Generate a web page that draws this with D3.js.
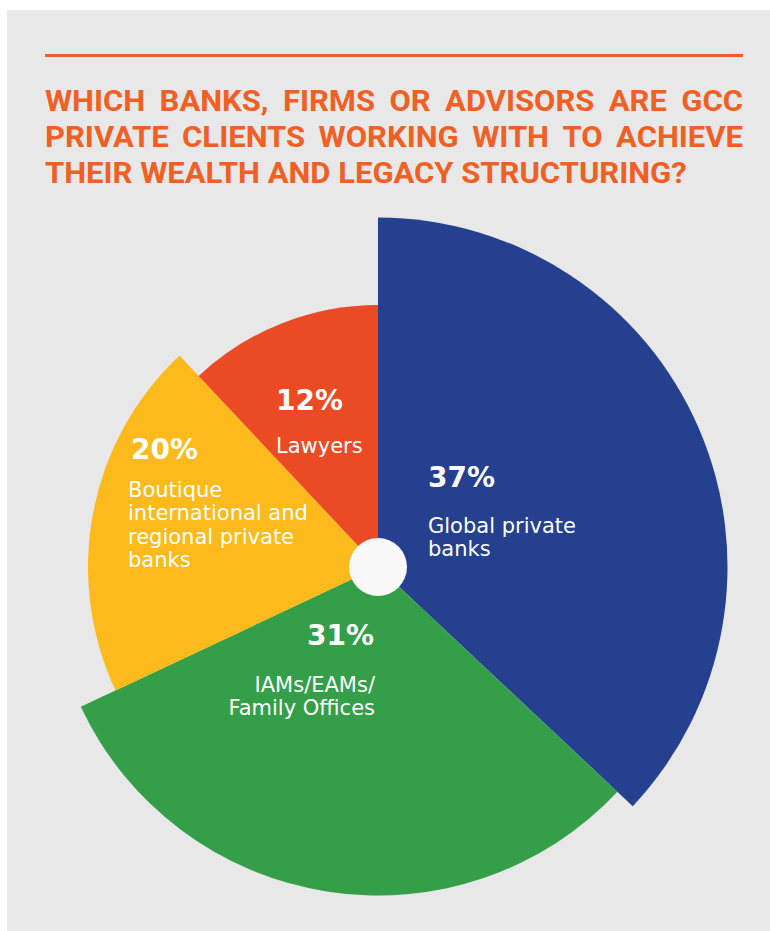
<!DOCTYPE html>
<html>
<head>
<meta charset="utf-8">
<script src="https://cdn.jsdelivr.net/npm/d3@7"></script>
<style>
  html, body { margin: 0; padding: 0; background: #ffffff; }
  svg { display: block; }
</style>
</head>
<body>
<svg id="chart" width="770" height="931"></svg>
<script>
// ---- data ----
const categories = [
  "Global private banks",
  "IAMs/EAMs/Family Offices",
  "Boutique international and regional private banks",
  "Lawyers"
];
const shares = [37, 31, 20, 12];
const labelLines = [
  ["Global private", "banks"],
  ["IAMs/EAMs/", "Family Offices"],
  ["Boutique", "international and", "regional private", "banks"],
  ["Lawyers"]
];
const titleLines = [
  "WHICH BANKS, FIRMS OR ADVISORS ARE GCC",
  "PRIVATE CLIENTS WORKING WITH TO ACHIEVE",
  "THEIR WEALTH AND LEGACY STRUCTURING?"
];

// ---- styles / layout ----
const colors = ["#24408E", "#349E48", "#FCBA1C", "#EA4B25"];
const orange = "#F15F24";
const W = 770, H = 931;
const cx = 378, cy = 567;

// label anchors relative to the pie centre: [pctX, pctY, lineX, firstBaseline, anchor]
const labelLayout = [
  { px: 50,   py: -80,  lx: 50,   ly: -34,  anchor: "start" },
  { px: -71,  py: 78,   lx: -3,   ly: 125,  anchor: "end" },
  { px: -247, py: -108, lx: -250, ly: -70,  anchor: "start" },
  { px: -102, py: -157, lx: -102, ly: -114, anchor: "start" }
];
const lineStep = 23.3;

const svg = d3.select("#chart");

// grey panel
svg.append("rect")
  .attr("x", 7).attr("y", 10)
  .attr("width", W - 7).attr("height", H - 10)
  .attr("fill", "#E8E8E8");

// rule above the title
svg.append("line")
  .attr("x1", 45).attr("x2", 743)
  .attr("y1", 55.5).attr("y2", 55.5)
  .attr("stroke", orange).attr("stroke-width", 2.8);

// ---- title: condensed, first two lines justified ----
const titleFont = { family: "Roboto, 'DejaVu Sans', sans-serif", size: 29.5, weight: 700 };
const titleLeft = 45, titleRight = 743, lastLineWidth = 642;
const baselines = [111, 147, 183];

function styleTitle(sel) {
  return sel.attr("font-family", titleFont.family)
    .attr("font-size", titleFont.size)
    .attr("font-weight", titleFont.weight)
    .attr("fill", orange);
}

// horizontal compression factor from the last (unjustified) line
const probe = styleTitle(svg.append("text")).text(titleLines[2]);
const k = lastLineWidth / probe.node().getComputedTextLength();
probe.remove();

titleLines.forEach((line, i) => {
  const g = svg.append("g")
    .attr("transform", `translate(${titleLeft},${baselines[i]}) scale(${k},1)`);
  if (i === titleLines.length - 1) {
    styleTitle(g.append("text")).text(line);
    return;
  }
  const words = line.split(" ");
  const nodes = words.map(w => styleTitle(g.append("text")).text(w));
  const widths = nodes.map(n => n.node().getComputedTextLength());
  const total = d3.sum(widths);
  const gap = ((titleRight - titleLeft) / k - total) / (words.length - 1);
  let x = 0;
  nodes.forEach((n, j) => {
    n.attr("x", x);
    x += widths[j] + gap;
  });
});

// ---- pie with value-scaled radii ----
const pie = d3.pie().sort(null).value(d => d)(shares);
const rScale = d3.scaleLinear().domain([0, 40]).range([220, 360]);

const chart = svg.append("g").attr("transform", `translate(${cx},${cy})`);

chart.selectAll("path.slice")
  .data(pie)
  .join("path")
  .attr("class", "slice")
  .attr("fill", (d, i) => colors[i])
  .attr("d", d => d3.arc()
    .innerRadius(0)
    .outerRadius(rScale(d.data))
    .startAngle(d.startAngle)
    .endAngle(d.endAngle)());

// centre hub
chart.append("circle")
  .attr("r", 29)
  .attr("fill", "#F8F9F8");

// ---- labels ----
pie.forEach((d, i) => {
  const L = labelLayout[i];
  chart.append("text")
    .attr("x", L.px).attr("y", L.py)
    .attr("font-family", "'DejaVu Sans', sans-serif")
    .attr("font-weight", 700)
    .attr("font-size", 28)
    .attr("fill", "#ffffff")
    .text(d.data + "%");
  labelLines[i].forEach((t, j) => {
    chart.append("text")
      .attr("x", L.lx).attr("y", L.ly + j * lineStep)
      .attr("text-anchor", L.anchor)
      .attr("font-family", "'DejaVu Sans', sans-serif")
      .attr("font-size", 21)
      .attr("fill", "#ffffff")
      .text(t);
  });
});
</script>
</body>
</html>
